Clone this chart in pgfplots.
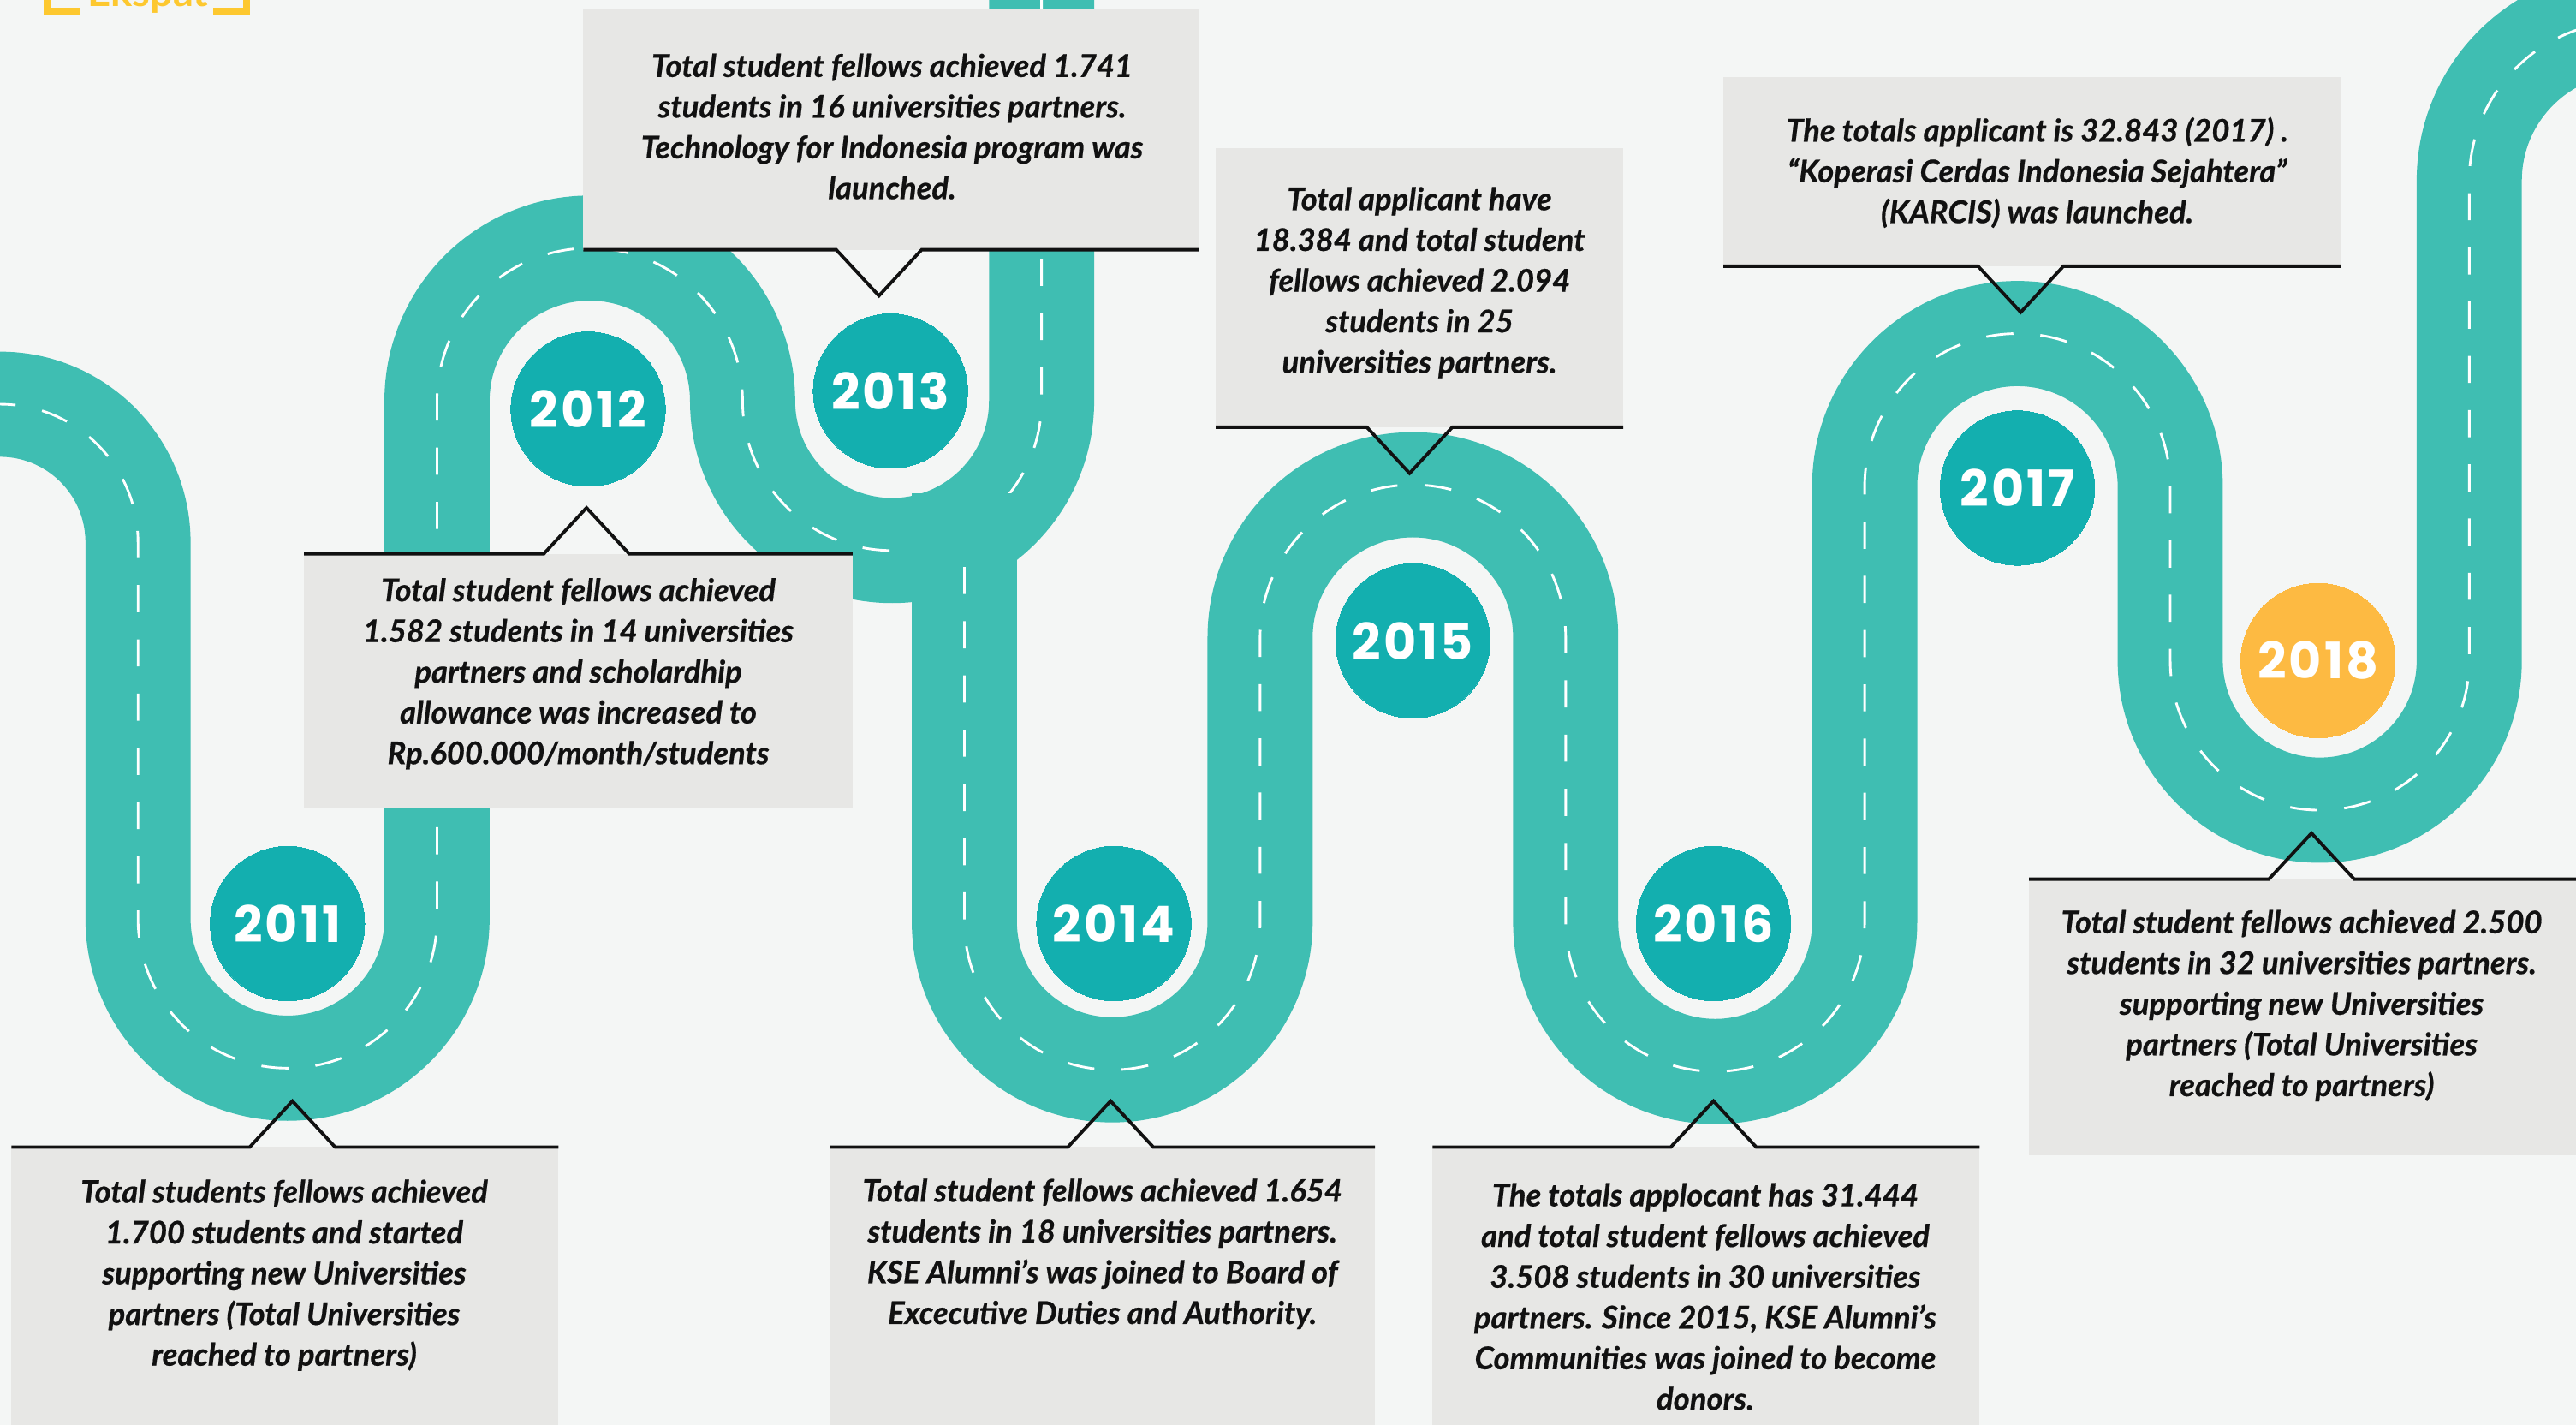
\documentclass[border=0pt]{standalone}
\usepackage{pgfplots}
\pgfplotsset{compat=1.18}
\usepackage{fontspec}
\setmainfont{Lato}[BoldItalicFeatures={FakeBold=0.5}]
\newfontfamily\yearfont[LetterSpace=5]{Poppins}
\definecolor{bg}{RGB}{244,246,245}
\definecolor{road}{RGB}{63,190,178}
\definecolor{dot}{RGB}{19,175,175}
\definecolor{gold}{RGB}{253,186,66}
\definecolor{logo}{RGB}{253,200,47}
\definecolor{boxgray}{RGB}{231,231,229}
\definecolor{ink}{RGB}{17,17,17}

\tikzset{
  roadline/.style={draw=road, line width=6.4mm,
    postaction={draw=white, line width=0.15mm, dash pattern=on 1.65mm off 1.65mm}},
  note/.style={font=\fontsize{5.4}{7.05}\selectfont\bfseries\itshape, text=ink,
    align=center, anchor=center, inner sep=0pt},
  edge/.style={draw=ink, line width=0.2mm},
}

\begin{document}
\begin{tikzpicture}
\useasboundingbox (0,0) rectangle (15.68cm,8.67cm);
\clip (0,0) rectangle (15.68cm,8.67cm);
\fill[bg] (0,0) rectangle (15.68cm,8.67cm);
\begin{axis}[
    at={(0,0)}, anchor=south west,
    width=15.68cm, height=8.67cm, scale only axis,
    xmin=0, xmax=1568, ymin=0, ymax=867, y dir=reverse,
    hide axis, clip=false
]
% road, left part: 2011 -> 2012 -> 2013 and up
\draw[roadline] (axis cs:-40,246) -- (axis cs:0,246)
    arc[start angle=90, end angle=0, radius=8.4mm] -- (axis cs:84,559)
    arc[start angle=180, end angle=360, radius=9.1mm] -- (axis cs:266,244)
    arc[start angle=180, end angle=0, radius=9.3mm]
    arc[start angle=180, end angle=360, radius=9.1mm] -- (axis cs:634,-40);
% road, right part: 2014 -> 2018
\draw[draw=road, line width=6.4mm] (axis cs:587,300) -- (axis cs:587,350);
\draw[roadline] (axis cs:587,345) -- (axis cs:587,561)
    arc[start angle=180, end angle=360, radius=9.0mm] -- (axis cs:767,388)
    arc[start angle=180, end angle=0, radius=9.3mm] -- (axis cs:953,561)
    arc[start angle=180, end angle=360, radius=9.1mm] -- (axis cs:1135,296)
    arc[start angle=180, end angle=0, radius=9.3mm] -- (axis cs:1321,402)
    arc[start angle=180, end angle=360, radius=9.1mm] -- (axis cs:1503,110)
    arc[start angle=180, end angle=90, radius=9.7mm] -- (axis cs:1660,13);

% year markers
\addplot[color=dot, only marks, mark=*, mark size=4.7mm, mark options={draw=dot, fill=dot, line width=0pt},
    nodes near coords, point meta=explicit symbolic, nodes near coords align=center,
    every node near coord/.append style={text=white, font=\yearfont\bfseries\fontsize{8.7}{10}\selectfont}]
    table[meta=label] {
x y label
175 562 2011
358 249 2012
542 238 2013
678 562 2014
860 390 2015
1043 562 2016
1228 297 2017
};
\addplot[color=gold, only marks, mark=*, mark size=4.7mm, mark options={draw=gold, fill=gold, line width=0pt},
    nodes near coords, point meta=explicit symbolic, nodes near coords align=center,
    every node near coord/.append style={text=white, font=\yearfont\bfseries\fontsize{8.7}{10}\selectfont}]
    table[meta=label] {
x y label
1411 402 2018
};

% boxes with pointer above
\fill[boxgray] (axis cs:7,698) rectangle (axis cs:340,880);
\draw[edge] (axis cs:7,698) -- (axis cs:152,698) -- (axis cs:178,670) -- (axis cs:204,698) -- (axis cs:340,698);
\fill[boxgray] (axis cs:185,337) rectangle (axis cs:519,492);
\draw[edge] (axis cs:185,337) -- (axis cs:331,337) -- (axis cs:357,309) -- (axis cs:383,337) -- (axis cs:519,337);
\fill[boxgray] (axis cs:505,698) rectangle (axis cs:837,880);
\draw[edge] (axis cs:505,698) -- (axis cs:650,698) -- (axis cs:676,670) -- (axis cs:702,698) -- (axis cs:837,698);
\fill[boxgray] (axis cs:872,698) rectangle (axis cs:1205,880);
\draw[edge] (axis cs:872,698) -- (axis cs:1017,698) -- (axis cs:1043,670) -- (axis cs:1069,698) -- (axis cs:1205,698);
\fill[boxgray] (axis cs:1235,535) rectangle (axis cs:1580,703);
\draw[edge] (axis cs:1235,535) -- (axis cs:1381,535) -- (axis cs:1407,507) -- (axis cs:1433,535) -- (axis cs:1580,535);
% boxes with pointer below
\fill[boxgray] (axis cs:355,5) rectangle (axis cs:730,152);
\draw[edge] (axis cs:355,152) -- (axis cs:509,152) -- (axis cs:535,180) -- (axis cs:561,152) -- (axis cs:730,152);
\fill[boxgray] (axis cs:740,90) rectangle (axis cs:988,260);
\draw[edge] (axis cs:740,260) -- (axis cs:832,260) -- (axis cs:858,288) -- (axis cs:884,260) -- (axis cs:988,260);
\fill[boxgray] (axis cs:1049,47) rectangle (axis cs:1425,162);
\draw[edge] (axis cs:1049,162) -- (axis cs:1204,162) -- (axis cs:1230,190) -- (axis cs:1256,162) -- (axis cs:1425,162);

% texts
\node[note] at (axis cs:173,776) {Total students fellows achieved\\1.700 students and started\\supporting new Universities\\partners (Total Universities\\reached to partners)};
\node[note] at (axis cs:352,410) {Total student fellows achieved\\1.582 students in 14 universities\\partners and scholardhip\\allowance was increased to\\Rp.600.000/month/students};
\node[note] at (axis cs:543,77) {Total student fellows achieved 1.741\\students in 16 universities partners.\\Technology for Indonesia program was\\launched.};
\node[note] at (axis cs:671,763) {Total student fellows achieved 1.654\\students in 18 universities partners.\\KSE Alumni’s was joined to Board of\\Excecutive Duties and Authority.};
\node[note] at (axis cs:864,172) {Total applicant have\\18.384 and total student\\fellows achieved 2.094\\students in 25\\universities partners.};
\node[note] at (axis cs:1038,789) {The totals applocant has 31.444\\and total student fellows achieved\\3.508 students in 30 universities\\partners. Since 2015, KSE Alumni’s\\Communities was joined to become\\donors.};
\node[note] at (axis cs:1240,105) {The totals applicant is 32.843 (2017) .\\“Koperasi Cerdas Indonesia Sejahtera”\\(KARCIS) was launched.};
\node[note] at (axis cs:1401,612) {Total student fellows achieved 2.500\\students in 32 universities partners.\\supporting new Universities\\partners (Total Universities\\reached to partners)};

% logo remnant at the top
\draw[logo, line width=0.45mm] (axis cs:29,-20) -- (axis cs:29,7) -- (axis cs:49,7);
\draw[logo, line width=0.45mm] (axis cs:130,7) -- (axis cs:150,7) -- (axis cs:150,-20);
\node[logo, font=\bfseries\fontsize{7}{8}\selectfont, anchor=base, inner sep=0pt] at (axis cs:90,4) {Ekspat};
\end{axis}
\end{tikzpicture}
\end{document}
